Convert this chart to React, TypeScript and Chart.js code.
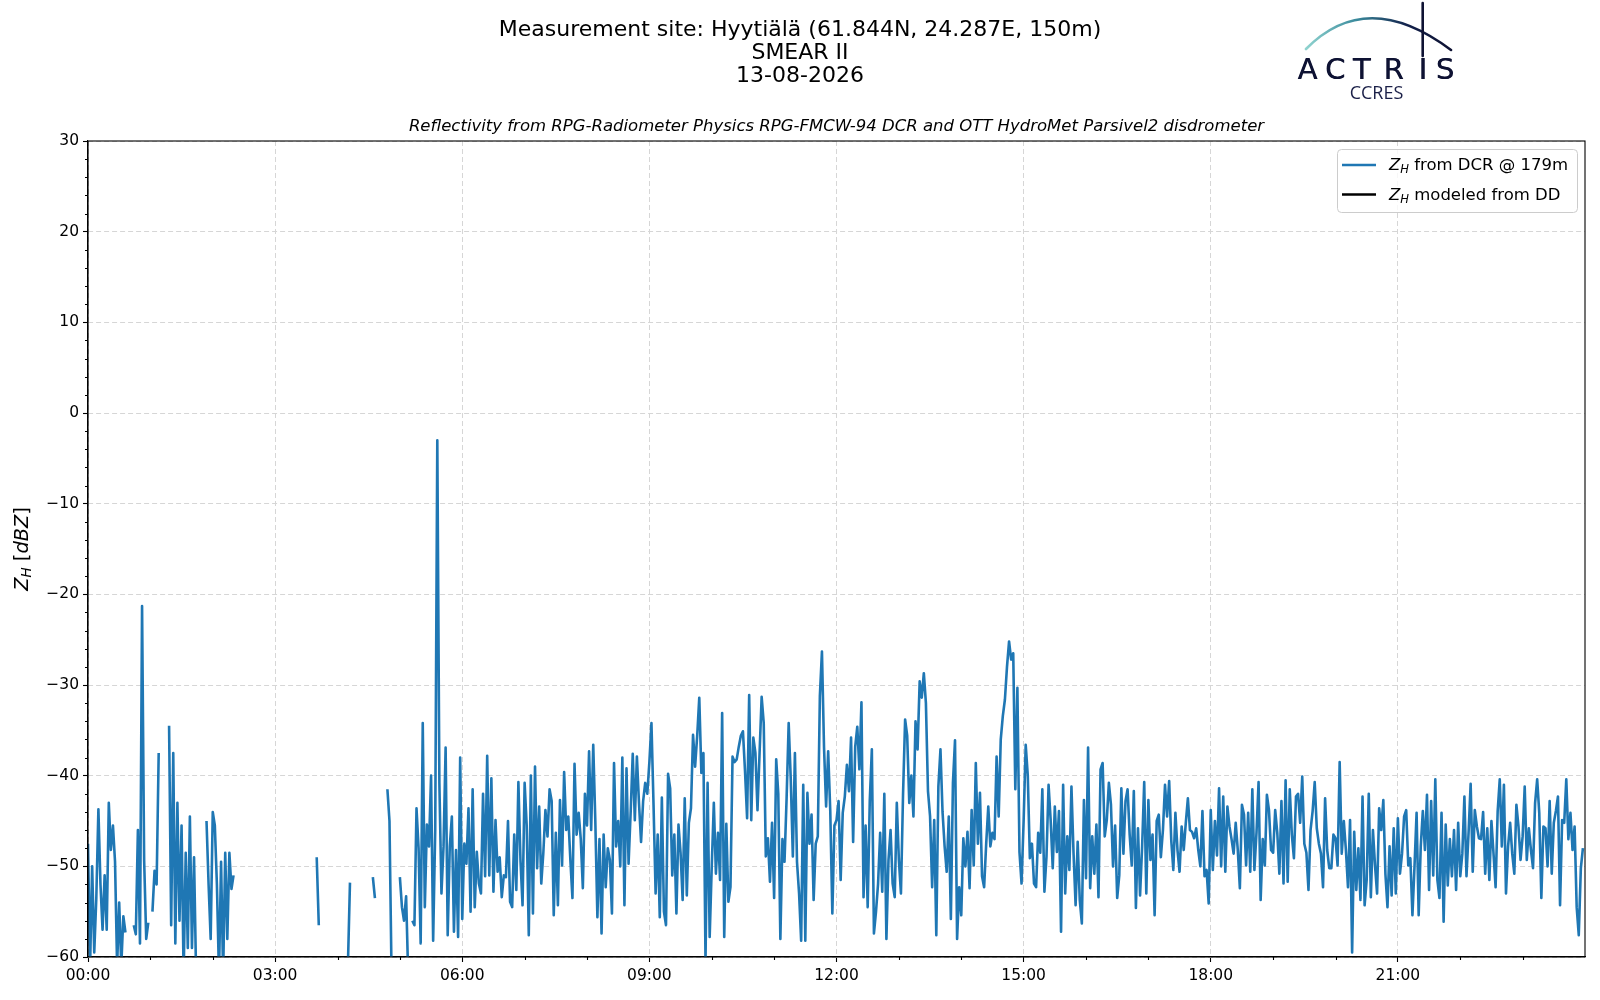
import { useEffect, useRef } from 'react';
import { Chart, registerables } from 'chart.js';

Chart.register(...registerables);

// 2-minute samples of Z_H (dBZ) from the DCR at 179 m, one array per 3 hours.
// null = no echo (gap in the line); values below -60 run off the axis.
const STEP_H = 2 / 60;
const BLOCK_START_H = [0, 3, 6, 9, 12, 15, 18, 21];

const zh00 = [
  -47.5, -61, -50, -59.5, -53.5, -43.7, -52, -57, -51, -57,
  -43, -48.2, -45.5, -49.5, -61, -54, -61, -55.5, -57.3, null,
  null, null, -56.5, -57.5, -46, -58.5, -21.3, -49.3, -58, -56.2,
  null, -55, -50.5, -52, -37.5, null, null, null, null, -34.5,
  -56.5, -37.5, -58.5, -43, -56, -45.5, -62, -48.5, -59, -44.5,
  -59, -49, -62, null, null, null, null, -45, -52, -58,
  -44, -45.5, -52, -62, -49.5, -62, -48.5, -58, -48.5, -52.5,
  -51, null, null, null, null, null, null, null, null, null,
  null, null, null, null, null, null, null, null, null, null,
];

const zh03 = [
  null, null, null, null, null, null, null, null, null, null,
  null, null, null, null, null, null, null, null, null, null,
  -49, -56.5, null, null, null, null, null, null, null, null,
  null, null, null, null, null, -61, -51.8, null, null, null,
  null, null, null, null, null, null, null, -51.2, -53.5, null,
  null, null, null, null, -41.5, -45, -62, null, null, null,
  -51.2, -54.5, -56, -53.3, -62, null, -56, -56.5, -43.6, -48,
  -58.5, -34.2, -54.5, -45.4, -47.8, -40, -58.2, -46, -3, -40.8,
  -53, -47.8, -36.9, -57.6, -47.8, -44.5, -57.2, -48.2, -57.8, -38,
];

const zh06 = [
  -55.8, -47.5, -49.7, -43.6, -55, -41.5, -54.5, -48.4, -51.9, -53,
  -42, -51.1, -37.8, -51, -40.3, -52.8, -44.9, -50.6, -49, -53.4,
  -51, -51.2, -45, -53.9, -54.5, -46.5, -52.6, -40.7, -49.3, -54.3,
  -40.8, -45.5, -57.6, -40, -55.2, -39, -50.2, -43.4, -51.9, -48.5,
  -43.8, -46.7, -41.5, -42.8, -55.4, -46.3, -54.3, -42.7, -49.9, -39.6,
  -46, -44.5, -49.3, -53.5, -38.7, -46.5, -44.1, -47, -52.4, -42,
  -45.5, -37.3, -46, -36.6, -45, -55.6, -47, -57.4, -46.5, -52.3,
  -48, -49.3, -55.2, -38.6, -47.8, -45, -50, -38, -54.3, -39.2,
  -49.7, -44, -37.6, -44.9, -37.9, -43, -47.3, -42.8, -40.8, -42,
];

const zh09 = [
  -38.5, -34.2, -43.2, -53, -46.5, -55.6, -42.4, -55, -56.5, -39.8,
  -41.4, -51, -46.5, -55.2, -45.4, -48.5, -53.7, -42.5, -53.2, -45.2,
  -43.6, -35.5, -39, -35.6, -31.4, -39.7, -37.5, -60.5, -40.8, -57.8,
  -50, -43, -50.8, -46.3, -51.5, -33.1, -57.8, -45.3, -53.9, -52.3,
  -37.9, -38.5, -38.2, -36.8, -35.6, -35.1, -39.5, -44.7, -31.1, -44.9,
  -35.8, -37.5, -43.8, -37.5, -31.3, -34.2, -48.9, -46.9, -51.7, -45.2,
  -53.5, -38.2, -42, -58, -47, -49.5, -42.5, -34.2, -40.4, -48.9,
  -37.5, -49.5, -53, -58.2, -41, -58.2, -41.9, -47.5, -44.3, -53.7,
  -47.5, -46.7, -31.2, -26.3, -36.9, -43.4, -37.3, -43.9, -55.2, -45.5,
];

const zh12 = [
  -44.9, -42.8, -51.5, -44.1, -42.3, -38.8, -41.7, -35.8, -47.3, -36.8,
  -34.6, -39.3, -31.9, -53.4, -45.5, -54.5, -42.8, -37.1, -57.4, -55,
  -51.9, -46.3, -52.8, -42, -58, -49.3, -46, -51.9, -53.4, -43,
  -49.3, -53, -42.1, -33.8, -35.6, -43, -40, -44.5, -34, -37.1,
  -29.6, -31.4, -28.7, -32, -41.7, -44.5, -52.3, -44.9, -57.6, -41.2,
  -37.1, -44, -47.8, -50.6, -44.5, -55.8, -40.8, -36.1, -58, -52.3,
  -55.4, -46.9, -50, -46.2, -52.4, -43.8, -49.9, -38.6, -47.5, -41.9,
  -51.1, -52.3, -47.5, -43.4, -47.8, -46.3, -47, -37.9, -44.5, -36,
  -33.4, -31.6, -28, -25.2, -27.2, -26.5, -41.5, -30.3, -48.4, -51.9,
];

const zh15 = [
  -45, -36.6, -40, -49.1, -47.5, -51.9, -52.3, -46.3, -48.5, -41.5,
  -52.8, -48.9, -41, -44.9, -50.2, -43.4, -48.4, -43.9, -57.2, -41,
  -53, -46.7, -50.4, -41.2, -48.5, -54.3, -47.3, -53.7, -56.3, -42.7,
  -51.3, -36.9, -52.4, -46.7, -50.8, -45.4, -53.4, -39.3, -38.6, -46.7,
  -44.9, -40.8, -43.2, -50, -45.5, -53.5, -51, -41.4, -48.6, -42.8,
  -41.5, -46.5, -49.9, -41.7, -54.6, -45.8, -53.2, -47.8, -40.7, -53,
  -42.7, -49.3, -46.5, -55.4, -45, -44.3, -49, -46, -41, -44.5,
  -40.6, -47.1, -50.4, -44.1, -48.2, -50.6, -45.6, -48.2, -45.2, -42.5,
  -46, -46.2, -46.9, -45.8, -48.2, -50, -43.9, -51.1, -50.4, -54.1,
];

const zh18 = [
  -43.8, -50.4, -45, -48.8, -41.4, -50, -42.3, -50.6, -43.4, -45.6,
  -47, -48.6, -45.2, -48.2, -52.4, -43.2, -44.3, -49.9, -44.1, -50.6,
  -41.5, -50.4, -46.3, -40.7, -53.7, -47, -49.9, -42.1, -43.8, -48.2,
  -48.5, -43.8, -46.3, -50.8, -42.8, -51.9, -40.5, -51.7, -41.5, -46.5,
  -49.1, -42.3, -42, -45.2, -40.1, -47.5, -48.5, -52.6, -46, -43.9,
  -40.7, -45.8, -47.5, -48.6, -52.3, -42.5, -48.2, -50.2, -50.2, -46.5,
  -46.9, -49.9, -38.5, -48.6, -45, -48.2, -52.3, -44.9, -59.5, -46.2,
  -52.6, -48, -53.7, -42.3, -54.3, -51.5, -42, -53.4, -46, -49.9,
  -53, -43.6, -46, -42.7, -50.8, -54.5, -47.8, -53.2, -45.8, -53,
];

const zh21 = [
  -44.7, -50.8, -48.6, -44.5, -43.8, -49.9, -49.1, -55.4, -50, -44.1,
  -55.4, -47.8, -43.9, -48.2, -42.1, -52.6, -42.8, -51, -40.4, -51.5,
  -53.5, -44.1, -56.1, -45.4, -52.1, -47, -51.1, -46, -52.6, -45.2,
  -51.1, -48.6, -42.3, -51.1, -46.3, -40.9, -50.6, -43.8, -45.6, -46.9,
  -47, -44, -50.8, -45.8, -51.5, -45, -48.6, -52.3, -43.9, -40.4,
  -47.8, -41, -53, -47.8, -45.2, -48.6, -50.8, -43.2, -45.6, -49.3,
  -46.7, -41.2, -49.3, -45.8, -48.2, -50.2, -43, -40.4, -44.1, -53.5,
  -45.6, -45.8, -50, -42.8, -50.8, -45.2, -43.9, -42.3, -54.3, -44.9,
  -45.2, -40.4, -47, -44.1, -48.2, -45.6, -54.5, -57.6, -50.2, -48,
];

const BLOCKS = [zh00, zh03, zh06, zh09, zh12, zh15, zh18, zh21];

const TITLE_LINES = ['Measurement site: Hyytiälä (61.844N, 24.287E, 150m)', 'SMEAR II', '13-08-2026'];
const SUBTITLE = 'Reflectivity from RPG-Radiometer Physics RPG-FMCW-94 DCR and OTT HydroMet Parsivel2 disdrometer';
const MINOR_HOURS = [1, 2, 4, 5, 7, 8, 10, 11, 13, 14, 16, 17, 19, 20, 22, 23];
const MINOR_DBZ = [-58, -56, -54, -52, -48, -46, -44, -42, -38, -36, -34, -32, -28, -26, -24, -22,
  -18, -16, -14, -12, -8, -6, -4, -2, 2, 4, 6, 8, 12, 14, 16, 18, 22, 24, 26, 28];

const FONT = '"DejaVu Sans"';
const BLUE = '#1f77b4';
const GRID = '#d6d6d6';

type Run = { text: string; italic?: boolean; sub?: boolean };

function runFont(r: Run, size: number) {
  return `${r.italic ? 'italic ' : ''}${r.sub ? size * 0.7 : size}px ${FONT}`;
}

function runsWidth(ctx: CanvasRenderingContext2D, runs: Run[], size: number) {
  let w = 0;
  for (const r of runs) {
    ctx.font = runFont(r, size);
    w += ctx.measureText(r.text).width;
  }
  return w;
}

function drawRuns(ctx: CanvasRenderingContext2D, runs: Run[], x: number, y: number, size: number) {
  let cx = x;
  for (const r of runs) {
    ctx.font = runFont(r, size);
    ctx.fillText(r.text, cx, r.sub ? y + size * 0.25 : y);
    cx += ctx.measureText(r.text).width;
  }
}

const frameAndTicks = {
  id: 'frameAndTicks',
  afterDatasetsDraw(chart: any) {
    const { ctx, chartArea: a, scales } = chart;
    ctx.save();
    ctx.strokeStyle = '#000';
    ctx.lineWidth = 1.1;
    ctx.strokeRect(a.left, a.top, a.right - a.left, a.bottom - a.top);
    ctx.beginPath();
    for (const h of MINOR_HOURS) {
      const px = Math.round(scales.x.getPixelForValue(h)) + 0.5;
      ctx.moveTo(px, a.bottom);
      ctx.lineTo(px, a.bottom + 3);
    }
    for (const v of MINOR_DBZ) {
      const py = Math.round(scales.y.getPixelForValue(v)) + 0.5;
      ctx.moveTo(a.left - 3, py);
      ctx.lineTo(a.left, py);
    }
    ctx.stroke();
    ctx.restore();
  },
};

const annotations = {
  id: 'annotations',
  afterDraw(chart: any) {
    const { ctx, chartArea: a } = chart;
    ctx.save();
    ctx.fillStyle = '#000';
    ctx.textBaseline = 'middle';

    // title block, centred on the figure
    ctx.textAlign = 'center';
    ctx.font = `22px ${FONT}`;
    TITLE_LINES.forEach((t, i) => ctx.fillText(t, 800, 30 + i * 23.2));
    ctx.font = `italic 16.5px ${FONT}`;
    ctx.fillText(SUBTITLE, (a.left + a.right) / 2, 127);

    // y label: Z_H [dBZ]
    ctx.textAlign = 'left';
    const ylab: Run[] = [
      { text: 'Z', italic: true },
      { text: 'H', italic: true, sub: true },
      { text: ' [' },
      { text: 'dBZ', italic: true },
      { text: ']' },
    ];
    ctx.save();
    ctx.translate(23, (a.top + a.bottom) / 2);
    ctx.rotate(-Math.PI / 2);
    drawRuns(ctx, ylab, -runsWidth(ctx, ylab, 19.4) / 2, 0, 19.4);
    ctx.restore();

    // legend
    const bx = 1337, by = 149, bw = 240, bh = 63;
    ctx.beginPath();
    ctx.roundRect(bx + 0.5, by + 0.5, bw, bh, 4);
    ctx.fillStyle = 'rgba(255,255,255,0.8)';
    ctx.fill();
    ctx.strokeStyle = '#cccccc';
    ctx.lineWidth = 1;
    ctx.stroke();
    const entries: Run[][] = [
      [{ text: 'Z', italic: true }, { text: 'H', italic: true, sub: true }, { text: ' from DCR @ 179m' }],
      [{ text: 'Z', italic: true }, { text: 'H', italic: true, sub: true }, { text: ' modeled from DD' }],
    ];
    chart.data.datasets.forEach((ds: any, i: number) => {
      const yy = 165 + i * 29.5;
      ctx.strokeStyle = ds.borderColor;
      ctx.lineWidth = 2.6;
      ctx.beginPath();
      ctx.moveTo(1342, yy);
      ctx.lineTo(1376, yy);
      ctx.stroke();
      ctx.fillStyle = '#000';
      drawRuns(ctx, entries[i], 1389, yy + 1, 16.5);
    });

    // ACTRIS / CCRES logo
    const grad = ctx.createLinearGradient(1306, 0, 1451, 0);
    grad.addColorStop(0, '#8fd3cf');
    grad.addColorStop(0.35, '#3a8a9c');
    grad.addColorStop(0.7, '#12204a');
    grad.addColorStop(1, '#0e1233');
    ctx.strokeStyle = grad;
    ctx.lineWidth = 2.6;
    ctx.lineCap = 'round';
    ctx.beginPath();
    ctx.moveTo(1306, 49);
    ctx.quadraticCurveTo(1367, -13, 1451, 50);
    ctx.stroke();
    ctx.strokeStyle = '#0e1233';
    ctx.lineWidth = 2.6;
    ctx.beginPath();
    ctx.moveTo(1422.7, 3);
    ctx.lineTo(1422.7, 56);
    ctx.stroke();
    ctx.fillStyle = '#0e1233';
    ctx.textAlign = 'center';
    ctx.textBaseline = 'alphabetic';
    ctx.font = `500 29px ${FONT}`;
    const letters: [string, number][] = [['A', 1307.5], ['C', 1335], ['T', 1361.5], ['R', 1393.5], ['I', 1422.7], ['S', 1445]];
    for (const [ch, lx] of letters) {
      ctx.fillText(ch, lx, 78.5);
      ctx.fillText(ch, lx + 0.5, 78.5);
    }
    ctx.fillStyle = '#1a1f47';
    ctx.font = '18px "Open Sans"';
    ctx.fillText('CCRES', 1376.5, 99.3);
    ctx.restore();
  },
};

function ReflectivityChart() {
  const canvasRef = useRef<HTMLCanvasElement>(null);
  const chartRef = useRef<Chart | null>(null);

  useEffect(() => {
    if (!canvasRef.current) return;
    chartRef.current?.destroy();

    const points = BLOCKS.flatMap((blk, b) =>
      blk.map((v, i) => ({ x: BLOCK_START_H[b] + i * STEP_H, y: v })),
    );

    chartRef.current = new Chart(canvasRef.current, {
      type: 'line',
      data: {
        datasets: [
          {
            label: 'Z_H from DCR @ 179m',
            data: points,
            borderColor: BLUE,
            backgroundColor: BLUE,
            borderWidth: 2.6,
            borderJoinStyle: 'round',
            pointRadius: 0,
            tension: 0,
            spanGaps: false,
          },
          {
            label: 'Z_H modeled from DD',
            data: [],
            borderColor: '#000000',
            backgroundColor: '#000000',
            borderWidth: 2.6,
            pointRadius: 0,
          },
        ],
      },
      options: {
        animation: false,
        responsive: false,
        devicePixelRatio: 1,
        events: [],
        layout: { padding: { left: 0, right: 15, top: 141, bottom: 0 } },
        plugins: {
          legend: { display: false },
          title: { display: false },
          tooltip: { enabled: false },
        },
        scales: {
          x: {
            type: 'linear',
            min: 0,
            max: 24,
            afterFit: (s: any) => {
              s.height = 43;
            },
            ticks: {
              stepSize: 3,
              autoSkip: false,
              maxRotation: 0,
              padding: 5,
              color: '#000',
              font: { family: 'DejaVu Sans', size: 15.5 },
              callback: (v: any) => (v >= 24 ? null : `${String(v).padStart(2, '0')}:00`),
            },
            grid: { color: GRID, lineWidth: 1, tickLength: 5, tickColor: '#000', tickWidth: 1.1 },
            border: { display: true, color: '#000', width: 1.1, dash: [5, 3] },
          },
          y: {
            min: -60,
            max: 30,
            afterFit: (s: any) => {
              s.width = 88;
            },
            ticks: {
              stepSize: 10,
              padding: 4,
              color: '#000',
              font: { family: 'DejaVu Sans', size: 15.5 },
              callback: (v: any) => String(v).replace('-', '\u2212'),
            },
            grid: { color: GRID, lineWidth: 1, tickLength: 5, tickColor: '#000', tickWidth: 1.1 },
            border: { display: true, color: '#000', width: 1.1, dash: [5, 3] },
          },
        },
      },
      plugins: [frameAndTicks, annotations],
    });

    return () => {
      chartRef.current?.destroy();
    };
  }, []);

  return <canvas ref={canvasRef} width={1600} height={1000} style={{ display: 'block' }} />;
}

export default function App() {
  return (
    <div style={{ position: 'absolute', left: 0, top: 0, width: 1600, height: 1000, background: '#fff' }}>
      <ReflectivityChart />
    </div>
  );
}
